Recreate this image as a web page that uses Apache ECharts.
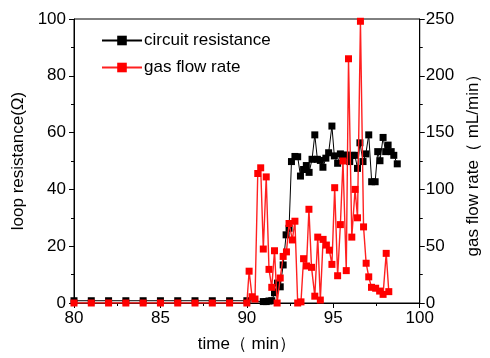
<!DOCTYPE html>
<html><head><meta charset="utf-8">
<script src="https://cdn.jsdelivr.net/npm/echarts@6/dist/echarts.min.js"></script>
<style>html,body{margin:0;padding:0;background:#fff}#c{width:490px;height:358px}</style>
</head><body><div id="c"></div>
<script>
const resTime = [80,81,82,83,84,85,86,87,88,89,90,90.95,91.12,91.28,91.44,91.60,91.77,91.93,92.10,92.27,92.44,92.58,92.78,92.94,93.10,93.28,93.44,93.60,93.77,93.93,94.08,94.25,94.40,94.57,94.73,94.92,95.06,95.25,95.41,95.57,95.75,95.95,96.10,96.25,96.40,96.54,96.72,96.88,97.05,97.22,97.42,97.57,97.70,97.88,98.03,98.17,98.35,98.50,98.70];
const resValue = [0.8,0.8,0.8,0.8,0.8,0.8,0.8,0.8,0.8,0.8,0.8,0.5,0.5,0.7,0.8,3.6,7,5.7,13.4,24,26.3,49.8,51.6,51.5,44.7,47,48.4,46,50.6,59.2,50.6,50.2,47.8,51,52.9,62.3,51.8,49.2,52.5,52,52.1,49.8,52,52,47.4,56.4,49.8,52.5,59.2,42.7,42.7,53.3,50.1,58.3,53.3,55.6,53.3,52,49];
const gasTime = [80,81,82,83,84,85,86,87,88,89,90,90.13,90.30,90.47,90.63,90.80,90.95,91.12,91.28,91.44,91.60,91.75,91.93,92.10,92.29,92.44,92.63,92.78,92.94,93.13,93.28,93.45,93.59,93.74,93.93,94.10,94.25,94.41,94.60,94.77,94.92,95.08,95.25,95.41,95.56,95.75,95.88,96.07,96.26,96.40,96.57,96.75,96.90,97.05,97.21,97.45,97.68,97.88,98.06,98.21];
const gasValue = [0,0,0,0,0,0,0,0,0,0,0,28,5.5,3.5,114,119,47.5,111,29.6,13.8,46,0,22,41,45,70,55.5,72,0,1,39,32.6,82.5,31.4,6,58,2.6,56,51,46.5,34,101.5,24,69,125,28.5,215,58,100,75,248,67,35,23,13.8,13,10.5,7.6,43.7,10];
const xTicks = [80,85,90,95,100];
const leftTicks = [0,20,40,60,80,100];
const rightTicks = [0,50,100,150,200,250];

const font = 'Liberation Sans, Arial, sans-serif';
const chart = echarts.init(document.getElementById('c'));
const axisCommon = {
  axisLine:{show:true,lineStyle:{color:'#000',width:1}},
  axisTick:{show:true,inside:false,length:5,lineStyle:{color:'#000'}},
  minorTick:{show:true,splitNumber:2,length:3,lineStyle:{color:'#000'}},
  splitLine:{show:false},
  axisLabel:{color:'#000',fontSize:17,fontFamily:font},
  nameTextStyle:{color:'#000',fontSize:17,fontFamily:font}
};
chart.setOption({
  animation:false,
  grid:{left:74,right:58,top:19,bottom:55,show:true,borderColor:'#000',borderWidth:1},
  legend:{
    orient:'vertical',left:96,top:27,itemWidth:40,itemHeight:12,itemGap:10,
    textStyle:{color:'#000',fontSize:17,fontFamily:font,padding:[0,0,0,-3]},
    data:['circuit resistance','gas flow rate']
  },
  xAxis:Object.assign({},axisCommon,{
    type:'value',min:xTicks[0],max:xTicks[xTicks.length-1],interval:5,
    name:'time（ min）',nameLocation:'middle',nameGap:33,
    axisLabel:Object.assign({},axisCommon.axisLabel,{margin:7})
  }),
  yAxis:[
    Object.assign({},axisCommon,{
      type:'value',min:leftTicks[0],max:leftTicks[leftTicks.length-1],interval:20,
      name:'loop resistance(Ω)',nameLocation:'middle',nameGap:45,nameRotate:90,
      axisLabel:Object.assign({},axisCommon.axisLabel,{margin:8})
    }),
    Object.assign({},axisCommon,{
      type:'value',position:'right',min:rightTicks[0],max:rightTicks[rightTicks.length-1],interval:50,
      name:'gas flow rate（ mL/min）',nameLocation:'middle',nameGap:42,nameRotate:90,
      axisLabel:Object.assign({},axisCommon.axisLabel,{margin:6})
    })
  ],
  series:[
    {name:'circuit resistance',type:'line',yAxisIndex:0,z:2,
     data:resTime.map((t,i)=>[t,resValue[i]]),
     symbol:'rect',symbolSize:7,
     lineStyle:{color:'#000',width:1},itemStyle:{color:'#000'}},
    {name:'gas flow rate',type:'line',yAxisIndex:1,z:3,
     data:gasTime.map((t,i)=>[t,gasValue[i]]),
     symbol:'rect',symbolSize:7,
     lineStyle:{color:'#ff2020',width:1.4},itemStyle:{color:'#ff0000'}}
  ]
});
</script></body></html>
